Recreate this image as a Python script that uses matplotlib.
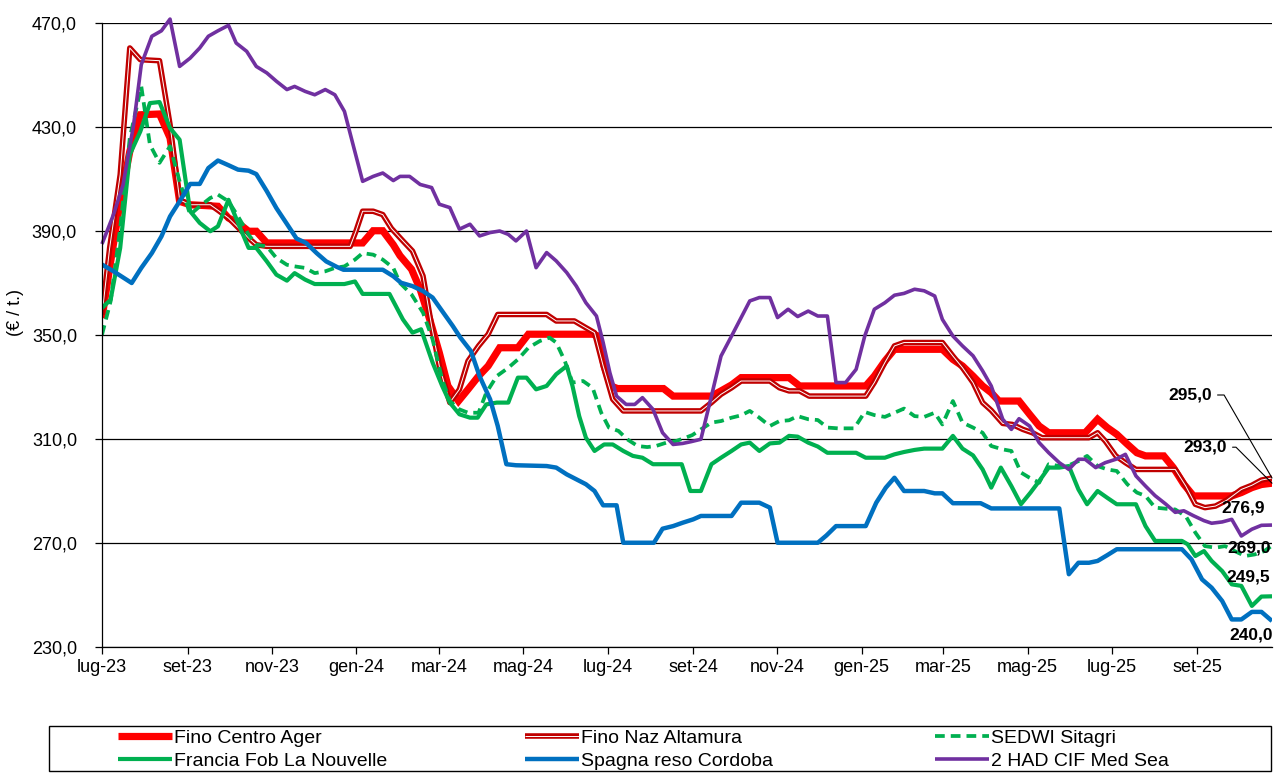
import datetime as dt
import numpy as np
import matplotlib
matplotlib.use("Agg")
import matplotlib.pyplot as plt
import matplotlib.dates as mdates
import matplotlib.patheffects as pe
from matplotlib.patches import Rectangle
from matplotlib.ticker import FixedLocator, FuncFormatter

plt.rcParams['font.family'] = ['Liberation Sans', 'DejaVu Sans']

# ---------------- data (weekly prices, EUR/t) ----------------
START = dt.date(2023, 7, 1)
N_WEEKS = 121            # last observation = week 121 (25 Oct 2025)
READ_SPAN = 122.1        # week positions below were read on a 0..122.1 scale

centro_pts = [(0, 356.5), (0.8, 375.8), (1.9, 401.4), (2.9, 420.6), (4.0, 434.7), (6.0, 435), (7.1, 425.8),
              (8.1, 401.4), (9.2, 400.1), (12.1, 399.5), (13.2, 395), (14.2, 393.1), (15.3, 389.9), (16.1, 389.9),
              (17.2, 385.4), (27.2, 385.4), (28.3, 390.1), (29.3, 390.1), (30.4, 384.7), (31.1, 380.5),
              (32.3, 375.3), (33.2, 367.6), (34.2, 356), (35.2, 343.2), (36.1, 330.4), (37.2, 324.6),
              (38.2, 329.1), (39.3, 334.2), (40.3, 338.1), (41.5, 345.1), (43.4, 345.1), (44.5, 350.3),
              (51.2, 350.3), (51.8, 349.6), (52.4, 338.1), (53.1, 330.4), (53.8, 329.4), (58.6, 329.4),
              (59.6, 326.5), (63.6, 326.5), (64.6, 328.5), (65.7, 330.8), (66.7, 333.6), (71.7, 333.6),
              (72.8, 330.4), (79.7, 330.4), (80.6, 334.2), (81.7, 340), (82.7, 344.5), (87.7, 344.5),
              (88.8, 340.6), (89.8, 338.1), (90.9, 334.2), (91.9, 330.4), (92.8, 327.8), (93.6, 324.6),
              (95.7, 324.6), (96.8, 319.5), (97.8, 315), (98.8, 312.4), (102.6, 312.4), (103.9, 317.6),
              (104.9, 314.4), (105.9, 311.8), (107.0, 308), (108.0, 304.7), (108.9, 303.5), (110.8, 303.5),
              (111.8, 299), (112.9, 292.6), (113.9, 288.1), (117.9, 288.1), (118.9, 289.4), (120.0, 291.3),
              (121.0, 292.5), (122.1, 293.0)]

altamura_pts = [(0, 357.8), (0.8, 383.5), (1.9, 411.7), (2.9, 460.4), (4.0, 455.9), (6.0, 455.5), (7.1, 430.9),
                (8.1, 402), (9.2, 400.1), (11.3, 400.1), (12.1, 398), (13.2, 395), (15.3, 387.3), (16.1, 384.7),
                (17.2, 384.1), (25.9, 384.1), (26.5, 389.9), (27.2, 397.6), (28.3, 397.6), (29.3, 396.3),
                (30.2, 391), (31.4, 386.2), (32.4, 382.3), (33.5, 372.7), (34.4, 353.5), (35.2, 338.1),
                (36.3, 324), (37.3, 329.1), (38.2, 340), (39.3, 345.8), (40.3, 350.3), (41.3, 357.9),
                (46.4, 357.9), (47.4, 355.4), (49.3, 355.4), (50.5, 352.8), (51.4, 350.9), (52.3, 338.1),
                (53.3, 325.3), (54.4, 320.8), (62.5, 320.8), (63.6, 324), (64.6, 327.2), (65.7, 329.7),
                (66.7, 332.3), (69.7, 332.3), (70.7, 329.7), (71.7, 328.5), (72.8, 328.5), (73.8, 326.5),
                (79.7, 326.5), (80.6, 331.7), (81.7, 339.4), (82.7, 345.8), (83.7, 347.1), (87.7, 347.1),
                (88.8, 341.9), (89.8, 337.4), (90.9, 331.7), (91.9, 324), (92.8, 321), (94.0, 316),
                (95.0, 315.6), (96.1, 313.7), (97.1, 312.4), (98.1, 310.5), (103.0, 310.5), (103.9, 312.4),
                (104.7, 309.2), (105.8, 303.5), (106.8, 300.9), (107.9, 298.3), (112.0, 298.3), (113.1, 291.9),
                (114.1, 284.9), (115.1, 283.6), (116.2, 284.2), (117.4, 286.5), (118.9, 290.6), (120.0, 292.2),
                (121.0, 294.2), (122.1, 295.0)]

sedwi_pts = [(0, 350.1), (0.9, 363), (1.9, 391.2), (2.9, 425.8), (3.6, 437.3), (4.1, 445.6), (5.0, 423.2),
             (6.0, 416.2), (7.1, 422.6), (8.1, 409.1), (9.2, 396.3), (10.2, 399.5), (11.3, 402.7), (12.1, 404),
             (13.2, 401.4), (14.2, 395.6), (15.3, 388.6), (16.1, 384.7), (17.2, 384.1), (18.2, 379.6),
             (19.3, 377), (20.1, 376.4), (21.2, 375.8), (22.2, 373.8), (23.3, 374.5), (24.3, 375.8),
             (25.3, 376.4), (26.4, 379), (27.2, 381.5), (28.3, 380.9), (29.3, 379), (30.4, 375.8), (31.1, 370),
             (32.3, 365.6), (33.5, 358.6), (34.5, 348.3), (35.5, 332.9), (36.3, 324.6), (37.3, 321.4),
             (38.2, 320.1), (39.3, 320.1), (40.1, 327.8), (41.2, 334.2), (42.4, 337.4), (43.4, 340.6),
             (44.5, 345.1), (45.7, 347.7), (46.7, 349), (47.4, 347.1), (48.3, 340), (49.1, 331.7),
             (50.2, 332.3), (51.2, 329.7), (52.1, 320.1), (52.9, 314.4), (53.9, 313.1), (54.8, 309.9),
             (55.9, 307.3), (56.9, 306.9), (57.8, 307.3), (58.9, 308.6), (59.9, 309.2), (60.9, 310.5),
             (61.6, 311.5), (62.5, 313.7), (63.6, 316.3), (64.6, 316.9), (65.7, 318.2), (66.7, 319.1),
             (67.6, 320.8), (68.6, 318.2), (69.7, 315), (70.7, 316.9), (71.7, 317.2), (72.6, 318.8),
             (73.7, 317.6), (74.7, 317.3), (75.7, 314.4), (76.8, 314.1), (78.5, 314.1), (79.6, 320.4),
             (80.6, 319.2), (81.7, 318.5), (82.7, 320.1), (83.7, 321.7), (84.8, 318.8), (85.8, 318.5),
             (86.9, 320.1), (87.7, 315.6), (88.8, 324.6), (89.8, 316.3), (90.9, 314.4), (91.9, 312.4),
             (92.8, 307.3), (94.0, 306), (94.9, 305.4), (95.9, 297.1), (96.8, 295.1), (97.8, 293.2),
             (98.8, 300.3), (99.9, 299.6), (100.9, 299.9), (101.9, 301.5), (102.8, 303.5), (103.9, 299.6),
             (104.9, 298.3), (105.9, 297.7), (107.0, 292.6), (108.0, 289.4), (108.9, 288.1), (109.9, 283.6),
             (111.0, 283.2), (112.0, 282.9), (113.1, 280.3), (114.1, 274), (115.1, 268.8), (116.2, 268.2),
             (117.2, 268.8), (118.2, 266.9), (119.3, 265), (120.3, 265.6), (121.3, 266.9), (122.1, 269.0)]

francia_pts = [(0, 360.4), (0.9, 363.6), (1.9, 383.5), (2.9, 419.4), (4.0, 428.3), (5.0, 439.2), (6.0, 439.6),
               (7.1, 429.6), (8.1, 425.1), (9.2, 397.6), (10.2, 393.1), (11.3, 389.9), (12.1, 391.8),
               (13.2, 402), (14.2, 393.1), (15.3, 383.5), (16.1, 383.5), (17.2, 378.3), (18.2, 373.2),
               (19.3, 370.9), (20.1, 373.8), (21.2, 371.3), (22.2, 369.6), (25.3, 369.6), (26.4, 370.6),
               (27.2, 365.8), (30.0, 365.8), (31.4, 356), (32.4, 350.9), (33.3, 352.2), (34.5, 339.4),
               (35.5, 330.4), (36.3, 324), (37.3, 319.5), (38.4, 318.2), (39.2, 318.2), (40.1, 323.3),
               (41.2, 324), (42.4, 324), (43.4, 333.6), (44.3, 333.6), (45.3, 329.1), (46.4, 330.4),
               (47.4, 334.9), (48.5, 338.1), (49.1, 330.4), (49.8, 318.8), (50.5, 310.5), (51.4, 305.4),
               (52.4, 307.9), (53.3, 307.9), (54.4, 305.4), (55.4, 303.5), (56.4, 302.8), (57.5, 300.3),
               (60.5, 300.3), (61.4, 290), (62.5, 290), (63.6, 300.3), (64.6, 302.8), (65.7, 305.4),
               (66.7, 307.9), (67.6, 308.6), (68.6, 305.4), (69.7, 308.3), (70.7, 308.6), (71.7, 311.2),
               (72.6, 310.9), (73.7, 308.6), (74.7, 307.1), (75.7, 304.7), (78.7, 304.7), (79.7, 302.8),
               (81.7, 302.8), (82.7, 304.1), (83.7, 305), (84.8, 305.8), (85.8, 306.3), (87.7, 306.3),
               (88.8, 311.2), (89.8, 306.3), (90.9, 303.7), (91.9, 298.3), (92.8, 291.3), (93.8, 299),
               (94.9, 291.9), (95.9, 284.9), (96.9, 289.4), (97.8, 293.8), (98.8, 299), (99.9, 299),
               (100.9, 299.6), (101.9, 290.6), (102.8, 284.9), (103.9, 290), (104.9, 287.4), (105.9, 284.9),
               (107.9, 284.9), (108.9, 276.5), (109.9, 270.8), (112.7, 270.8), (113.3, 269.5), (114.1, 265),
               (115.0, 266.9), (115.8, 263.1), (116.9, 259.2), (117.9, 254.1), (118.9, 253.5), (120.0, 245.8),
               (121.0, 249.4), (122.1, 249.5)]

spagna_pts = [(0, 377.1), (1.2, 374.5), (3.1, 370), (4.1, 375.8), (5.2, 381.5), (6.2, 387.9), (7.1, 395.6),
              (8.1, 401.4), (9.2, 408.1), (10.2, 408.1), (11.1, 414.2), (12.1, 417.1), (13.2, 415.3),
              (14.2, 413.6), (15.3, 413.2), (16.1, 411.9), (17.2, 405.3), (18.2, 398.8), (19.3, 392.7),
              (20.3, 387.1), (21.3, 385.4), (22.4, 381.5), (23.4, 378.3), (24.5, 376.2), (25.2, 375.1),
              (29.3, 375.1), (30.4, 372.6), (31.2, 370.1), (32.4, 368.8), (33.5, 366.9), (34.5, 364.4),
              (35.5, 359.2), (36.6, 353.5), (37.4, 349), (38.5, 343.8), (39.4, 334.2), (40.5, 325.3),
              (41.3, 315), (42.2, 300.3), (43.2, 299.9), (46.4, 299.6), (47.4, 299), (48.5, 296.4),
              (49.5, 294.5), (50.5, 292.6), (51.4, 290), (52.3, 284.5), (53.7, 284.5), (54.4, 270.1),
              (57.6, 270.1), (58.5, 275.5), (59.6, 276.5), (60.6, 277.8), (61.7, 279.1), (62.5, 280.4),
              (65.7, 280.4), (66.7, 285.5), (68.6, 285.5), (69.7, 283.6), (70.5, 270.1), (74.7, 270.1),
              (75.6, 272.9), (76.6, 276.5), (79.7, 276.5), (80.8, 285.5), (81.8, 291.3), (82.7, 295.1),
              (83.7, 290), (85.8, 290), (86.9, 289.1), (87.7, 289.1), (88.8, 285.3), (91.7, 285.3),
              (92.8, 283.3), (99.9, 283.3), (100.9, 258), (101.9, 262.4), (103.0, 262.4), (103.9, 263.1),
              (104.9, 265.3), (105.9, 267.6), (112.7, 267.6), (113.7, 263.7), (114.8, 256), (115.8, 252.8),
              (116.9, 247.7), (117.9, 240.6), (118.9, 240.6), (120.0, 243.5), (121.0, 243.5), (122.1, 240.0)]

had_pts = [(0, 385), (1.2, 396.3), (2.2, 407.8), (3.3, 430.9), (4.1, 454), (5.2, 464.9), (6.2, 467), (7.1, 471.5),
           (8.1, 453.3), (9.2, 456.5), (10.2, 460.4), (11.1, 464.9), (12.1, 467), (13.2, 469.1), (14.0, 462.3),
           (15.1, 459.1), (16.1, 453.3), (17.2, 450.8), (18.2, 447.6), (19.3, 444.4), (20.1, 445.6),
           (21.2, 443.7), (22.2, 442.4), (23.3, 444.4), (24.3, 442.4), (25.3, 436), (26.2, 423.2),
           (27.2, 409.1), (28.3, 411), (29.3, 412.3), (30.4, 409.4), (31.1, 411), (32.1, 411), (33.2, 407.9),
           (34.4, 406.7), (35.2, 400.3), (36.3, 399), (37.3, 390.7), (38.4, 392.6), (39.4, 388.1),
           (40.5, 389.4), (41.5, 390), (42.4, 388.7), (43.2, 386.2), (44.3, 390), (45.3, 375.9),
           (46.4, 381.7), (47.4, 378.5), (48.5, 374), (49.5, 368.8), (50.5, 362.4), (51.6, 357.3),
           (52.3, 347.1), (53.0, 335.5), (53.7, 326.5), (54.7, 323.3), (55.6, 323.3), (56.4, 325.9),
           (57.5, 321.4), (58.5, 312.4), (59.6, 307.9), (60.6, 308.3), (61.5, 309), (62.5, 309.9),
           (63.6, 326.5), (64.6, 341.9), (65.7, 349.6), (66.7, 356.7), (67.6, 363.1), (68.6, 364.4),
           (69.7, 364.4), (70.5, 356.7), (71.6, 359.9), (72.6, 357.1), (73.7, 359.2), (74.7, 357.3),
           (75.7, 357.3), (76.6, 331.7), (77.6, 331.7), (78.7, 336.8), (79.6, 349.6), (80.6, 359.9),
           (81.7, 362.4), (82.7, 365.3), (83.7, 366), (84.8, 367.6), (85.8, 367), (86.9, 365), (87.7, 356),
           (88.8, 349.6), (89.8, 345.8), (90.9, 342), (91.9, 336.2), (92.8, 330.4), (94.0, 317.6),
           (94.9, 313.7), (95.7, 317.8), (96.8, 315), (97.8, 308.6), (98.8, 304.7), (99.9, 300.9),
           (100.9, 298.3), (101.9, 302.2), (102.6, 302.2), (103.7, 299), (104.7, 300.9), (105.8, 302.2),
           (106.8, 304.1), (107.9, 295.8), (108.9, 291.9), (109.9, 288.2), (111.0, 285), (112.0, 281.8),
           (112.9, 282.4), (113.9, 280.5), (115.0, 278.6), (115.8, 277.6), (116.9, 278.1), (117.9, 279.1),
           (118.9, 272.7), (120.0, 275.3), (121.0, 276.8), (122.1, 276.9)]

series_names = ["Fino Centro Ager", "Fino Naz Altamura", "SEDWI Sitagri",
                "Francia Fob La Nouvelle", "Spagna reso Cordoba", "2 HAD CIF Med Sea"]
series_pts = [centro_pts, altamura_pts, sedwi_pts, francia_pts, spagna_pts, had_pts]

MESI = ["gen", "feb", "mar", "apr", "mag", "giu", "lug", "ago", "set", "ott", "nov", "dic"]
Y_TICKS = [230, 270, 310, 350, 390, 430, 470]

# ---------------- styles ----------------
RED = "#FF0000"
DARKRED = "#C00000"
GREEN = "#00B050"
BLUE = "#0070C0"
PURPLE = "#7030A0"

styles = [
    dict(color=RED, lw=5.2, solid_joinstyle="miter"),
    dict(color="white", lw=0.7, path_effects=[pe.Stroke(linewidth=4.0, foreground=DARKRED), pe.Normal()]),
    dict(color=GREEN, lw=2.7, linestyle=(0, (2.6, 1.6))),
    dict(color=GREEN, lw=3.0),
    dict(color=BLUE, lw=3.2),
    dict(color=PURPLE, lw=2.6, clip_on=False),
]

start_num = mdates.date2num(START)
scale_days = N_WEEKS * 7 / READ_SPAN


def to_x(pts):
    w = np.array([p[0] for p in pts], dtype=float)
    return start_num + w * scale_days


W, H = 1288, 778
fig = plt.figure(figsize=(W / 100, H / 100), dpi=100)
ax = fig.add_axes([102 / W, 1 - 647 / H, 1170 / W, 624 / H])

lines = []
for name, pts, st in zip(series_names, series_pts, styles):
    x = to_x(pts)
    y = np.array([p[1] for p in pts], dtype=float)
    ln, = ax.plot(x, y, label=name, solid_capstyle="butt", dash_capstyle="butt", **st)
    lines.append(ln)

end_num = start_num + N_WEEKS * 7
ax.set_xlim(start_num, end_num)
ax.set_ylim(230, 470)

# y axis
ax.yaxis.set_major_locator(FixedLocator(Y_TICKS))
ax.yaxis.set_major_formatter(FuncFormatter(lambda v, p: f"{v:.1f}".replace(".", ",")))
ax.grid(axis="y", color="black", lw=0.9)
ax.set_axisbelow(True)

# x axis: every two months
ticks = []
d = START
while mdates.date2num(d) <= end_num:
    ticks.append(mdates.date2num(d))
    m = d.month + 2
    y = d.year + (m - 1) // 12
    m = (m - 1) % 12 + 1
    d = dt.date(y, m, 1)
ax.xaxis.set_major_locator(FixedLocator(ticks))
ax.xaxis.set_major_formatter(FuncFormatter(
    lambda v, p: f"{MESI[mdates.num2date(v).month - 1]}-{mdates.num2date(v).year % 100:02d}"))

ax.tick_params(axis="both", direction="out", length=5, width=0.9, color="black",
               labelsize=13, labelcolor="black")
ax.tick_params(axis="y", pad=13)
ax.tick_params(axis="x", pad=4)
for s in ["top", "right"]:
    ax.spines[s].set_visible(False)
for s in ["left", "bottom"]:
    ax.spines[s].set_color("black")
    ax.spines[s].set_linewidth(0.9)

fig.text(15 / W, 1 - 312 / H, "(€ / t.)", rotation=90, ha="center", va="center", fontsize=13)

# end-of-series data labels
def fmt(v):
    return f"{v:.1f}".replace(".", ",")

label_specs = [
    (altamura_pts, (-60, 83), dict(arrowstyle="-", lw=0.8, color="black", shrinkA=2, shrinkB=0,
                                  relpos=(1, 0.5), connectionstyle="angle,angleA=0,angleB=-60,rad=0")),
    (centro_pts, (-45, 36), dict(arrowstyle="-", lw=0.8, color="black", shrinkA=2, shrinkB=0,
                                 relpos=(1, 0.5), connectionstyle="angle,angleA=0,angleB=-45,rad=0")),
    (had_pts, (-7, 17), None),
    (sedwi_pts, (-1, -2), None),
    (francia_pts, (-2, 19), None),
    (spagna_pts, (1, -14), None),
]
for pts, off, arrow in label_specs:
    xv = to_x(pts)[-1]
    yv = pts[-1][1]
    ax.annotate(fmt(yv), xy=(xv, yv), xytext=off, textcoords="offset pixels",
                ha="right", va="center", fontsize=12.5, fontweight="bold",
                arrowprops=arrow, annotation_clip=False, zorder=10)

# legend: box + three columns
fig.add_artist(Rectangle((49 / W, 1 - 771 / H), 1222 / W, 45 / H, transform=fig.transFigure,
                         fill=False, lw=1.0, ec="black"))
col_x = [118, 525, 935]
order = [(0, 3), (1, 4), (2, 5)]
for cx, (i, j) in zip(col_x, order):
    fig.legend([lines[i], lines[j]], [series_names[i], series_names[j]],
               loc="upper left", bbox_to_anchor=(cx / W, 1 - 729 / H),
               frameon=False, borderpad=0, borderaxespad=0, handlelength=2.8, handletextpad=0.1,
               labelspacing=0.28, prop=dict(family="Liberation Sans", size=14))

fig.savefig("out.png", dpi=100)
